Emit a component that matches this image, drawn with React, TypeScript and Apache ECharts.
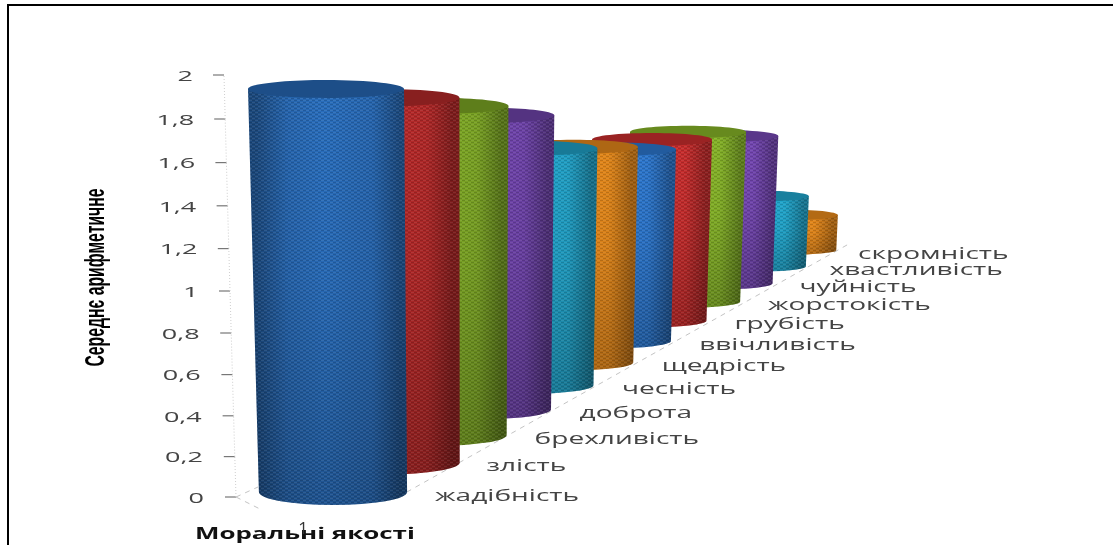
import React, { useEffect, useRef } from "react";
import * as echarts from "echarts";

const categories = ["жадібність","злість","брехливість","доброта","чесність","щедрість","ввічливість","грубість","жорстокість","чуйність","хвастливість","скромність"];
const values = [1.91,1.79,1.67,1.54,1.28,1.2,1.1,1.07,1.03,0.92,0.45,0.23];
const tickValues = [0,0.2,0.4,0.6,0.8,1,1.2,1.4,1.6,1.8,2];
const tickLabels = ["0","0,2","0,4","0,6","0,8","1","1,2","1,4","1,6","1,8","2"];
const yTitle = "Середнє арифметичне";
const xTitle = "Моральні якості";
const seriesName = "1";
const palette = ["#2f7fdc","#d63030","#8fc02a","#7d4cc0","#23b2dc","#f8931c"];

const K = 0.035;
const depthF = (i: number) => 1 / (1 + K * i);
const FONT = '"Open Sans", "Noto Sans", sans-serif';

function shade(hex: string, k: number) {
  const n = parseInt(hex.slice(1), 16);
  const c = [(n >> 16) & 255, (n >> 8) & 255, n & 255].map((x) => Math.round(x * k));
  return `rgb(${c[0]},${c[1]},${c[2]})`;
}

function makeDots() {
  const c = document.createElement("canvas");
  c.width = 6; c.height = 4;
  const g = c.getContext("2d")!;
  g.fillStyle = "rgba(0,0,0,0.14)";
  g.fillRect(0, 0, 3, 1); g.fillRect(3, 2, 3, 1);
  g.fillStyle = "rgba(255,255,255,0.08)";
  g.fillRect(3, 0, 3, 1); g.fillRect(0, 2, 3, 1);
  return c;
}

export default function App() {
  const ref = useRef<HTMLDivElement>(null);
  useEffect(() => {
    const chart = echarts.init(ref.current!, null, { renderer: "svg" });
    const dots = makeDots();
    const renderCyl = (params: any, api: any) => {
      const i = api.value(0);
      const v = api.value(1);
      const f = depthF(i);
      const d = 1 - f;
      const y0 = api.coord([0, 0])[1];
      const yB = y0 - 5 - 870 * d;
      const h = api.size([0, v])[1] * f;
      const yT = yB - h;
      const rT = 78 * Math.pow(f, 1.2);
      const xrT = 404 + 1550 * d + (i > 0 ? 3 : 0);
      const xlT = xrT - 2 * rT;
      const conv = (x: number) => x + (465 - x) * 0.000125 * h;
      const xlB = conv(xlT), xrB = conv(xrT);
      const rB = (xrB - xlB) / 2;
      const ryB = 13 * Math.pow(f, 3);
      const ryT = 9 * Math.pow(f, 1.5);
      const k = 1 - Math.max(0, (f - 0.82) * 0.8);
      const hex = palette[i % 6];
      const base = shade(hex, k);
      const edge = shade(hex, k * 0.66);
      const mid = shade(hex, k * 0.92);
      const top = shade(hex, k * 0.72);
      const pathData = `M${xlT} ${yT}L${xlB} ${yB}A${rB} ${ryB} 0 0 0 ${xrB} ${yB}L${xrT} ${yT}Z`;
      const z = (100 - i) * 4;
      const children: any[] = [
        { type: "path", z2: z, shape: { pathData }, style: { fill: {
          type: "linear", x: 0, y: 0, x2: 1, y2: 0, colorStops: [
            { offset: 0, color: edge }, { offset: 0.05, color: edge }, { offset: 0.25, color: mid },
            { offset: 0.48, color: base }, { offset: 0.78, color: mid }, { offset: 0.95, color: edge }, { offset: 1, color: edge },
          ] } } },
        { type: "path", z2: z + 1, shape: { pathData }, style: { fill: {
          type: "linear", x: 0, y: 0, x2: 0, y2: 1, colorStops: [
            { offset: 0, color: "rgba(0,0,0,0)" }, { offset: 0.45, color: "rgba(0,0,0,0.05)" }, { offset: 1, color: "rgba(0,0,0,0.24)" },
          ] } } },
        { type: "path", z2: z + 2, shape: { pathData }, style: { fill: { image: dots, repeat: "repeat" } } },
        { type: "ellipse", z2: z + 3, shape: { cx: (xlT + xrT) / 2, cy: yT, rx: rT, ry: ryT }, style: { fill: top } },
        { type: "text", z2: 1000, x: 435 + 1522 * d, y: y0 - 3 - 870 * d, scaleX: 1.65, style: {
          text: categories[i], x: 0, y: 0, fill: "#444", font: `17px ${FONT}`, textAlign: "left", textVerticalAlign: "middle" } },
      ];
      if (i === 0) {
        const line = { stroke: "#c4c4c4", lineWidth: 1, lineDash: [5, 5] };
        const dEnd = 0.2905;
        children.push(
          { type: "line", z2: 1, shape: { x1: 398, y1: y0, x2: 398 + 1550 * dEnd, y2: y0 - 870 * dEnd }, style: line },
          { type: "line", z2: 1, shape: { x1: 236, y1: y0, x2: 262, y2: y0 + 13 }, style: line },
          { type: "line", z2: 1, shape: { x1: 236, y1: y0, x2: 258, y2: y0 - 10 }, style: line },
        );
      }
      return { type: "group", children };
    };
    const tickY = (api: any, t: number) => api.coord([0, t])[1] + 5 * t * (2 - t);
    const renderTick = (params: any, api: any) => {
      const t = api.value(0);
      const y = tickY(api, t);
      const x = 236 - 6 * t;
      const children: any[] = [
        { type: "line", shape: { x1: x - 11, y1: y, x2: x, y2: y }, style: { stroke: "#777", lineWidth: 1.2 } },
        { type: "text", x: 204 - 5.5 * t, y, scaleX: 1.8, style: {
          text: tickLabels[params.dataIndex], x: 0, y: 0, fill: "#444", font: `15px ${FONT}`, textAlign: "right", textVerticalAlign: "middle" } },
      ];
      if (params.dataIndex < tickValues.length - 1) {
        const n = tickValues[params.dataIndex + 1];
        children.push({ type: "line", shape: { x1: x, y1: y, x2: 236 - 6 * n, y2: tickY(api, n) },
          style: { stroke: "#cfcfcf", lineWidth: 1, lineDash: [1, 2] } });
      }
      return { type: "group", children };
    };
    chart.setOption({
      animation: false,
      backgroundColor: "#fff",
      grid: { left: 0, width: 1113, top: 75, height: 422 },
      xAxis: { type: "category", data: categories, show: false },
      yAxis: { type: "value", min: 0, max: 2, interval: 0.2, show: false },
      graphic: [
        { type: "text", x: 95, y: 277.5, rotation: Math.PI / 2, scaleX: 0.79, scaleY: 1.35, style: {
          text: yTitle, x: 0, y: 0, fill: "#000", font: `bold 20px "Liberation Sans", sans-serif`, textAlign: "center", textVerticalAlign: "middle" } },
        { type: "text", x: 195, y: 533, scaleX: 1.62, style: {
          text: xTitle, x: 0, y: 0, fill: "#111", font: `bold 16px ${FONT}`, textAlign: "left", textVerticalAlign: "middle" } },
        { type: "text", x: 303, y: 527, style: {
          text: seriesName, x: 0, y: 0, fill: "#333", font: `17px ${FONT}`, textAlign: "center", textVerticalAlign: "middle" } },
      ],
      series: [
        { type: "custom", coordinateSystem: "cartesian2d", renderItem: renderCyl, clip: false, silent: true,
          data: values.map((v, i) => [i, v]), encode: { x: 0, y: 1 } },
        { type: "custom", coordinateSystem: "cartesian2d", renderItem: renderTick, clip: false, silent: true,
          xAxisIndex: 0, yAxisIndex: 0, data: tickValues.map((t) => [t, t]), encode: { x: -1, y: 1 } },
      ],
    });
    return () => chart.dispose();
  }, []);
  return (
    <>
      <div ref={ref} style={{ position: "absolute", left: 0, top: 0, width: 1113, height: 545, filter: "blur(0.6px)" }} />
      <div style={{ position: "absolute", left: 7, top: 4, width: 1106, height: 541, borderTop: "2px solid #000", borderLeft: "2px solid #000", boxSizing: "border-box", pointerEvents: "none" }} />
    </>
  );
}
